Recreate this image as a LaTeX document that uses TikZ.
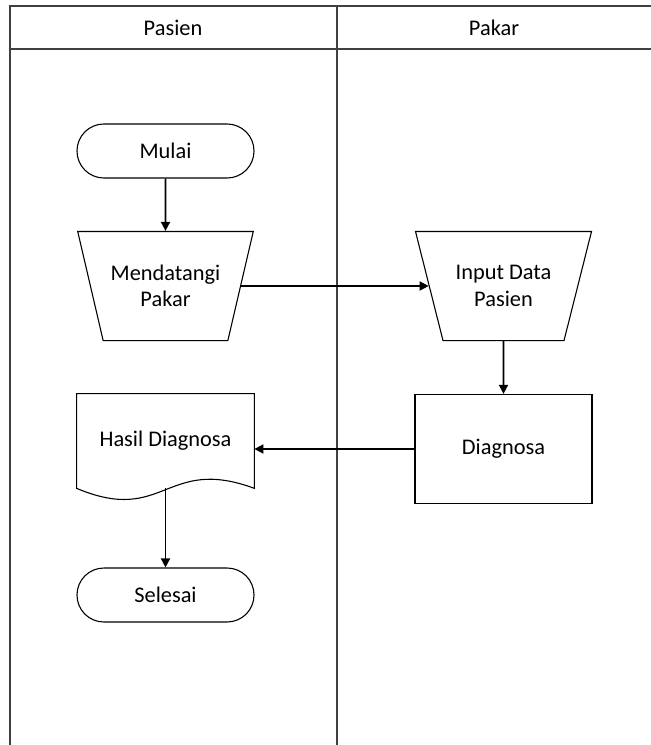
\documentclass[tikz,border=0pt]{standalone}
\usepackage{fontspec}
\setmainfont{Carlito}
\usetikzlibrary{shapes.geometric,arrows.meta}
\tikzset{
 terminal/.style={draw,rectangle,rounded corners=14.8pt,minimum width=97.35pt,minimum height=29.7pt,inner sep=0pt,line width=0.6pt},
 manual/.style={draw,trapezium,shape border rotate=180,trapezium stretches=true,trapezium left angle=62,trapezium right angle=62,minimum width=97.35pt,minimum height=60pt,inner sep=0pt,align=center,line width=0.6pt},
 process/.style={draw,rectangle,minimum width=97.35pt,minimum height=60pt,inner sep=0pt,line width=0.6pt},
 document/.style={rectangle,minimum width=97.35pt,minimum height=51.7pt,inner sep=0pt},
 lane/.style={line width=1pt,black!75},
 flow/.style={-{Triangle[length=5pt,width=5pt]},line width=0.9pt}
}
\begin{document}
\begin{tikzpicture}[x=0.55pt,y=-0.55pt,font=\fontsize{12.3}{14.5}\selectfont]
\useasboundingbox (0,0) rectangle (651,745);
% swimlanes
\draw[lane] (10,745) -- (10,6) -- (651,6);
\draw[lane] (10,49) -- (651,49);
\draw[lane] (337,6) -- (337,745);
\node(pasien) at (173,28){Pasien};
\node(pakar) at (494,28){Pakar};
% flowchart
\node[terminal](mulai) at (165.5,151){Mulai};
\node[manual](mendatangi) at (165.5,286){Mendatangi\\Pakar};
\node[manual](input) at (503.5,286){Input Data\\Pasien};
\node[process](diagnosa) at (503.5,449){Diagnosa};
\node[document](hasil) at (165.5,441){Hasil Diagnosa};
\draw[line width=0.6pt] (hasil.north west) -- (hasil.north east) -- (hasil.south east)
 .. controls +(-89,-33) and +(88,37) .. (hasil.south west) -- cycle;
\node[terminal](selesai) at (165.5,595){Selesai};
\foreach \from/\to in {mulai/mendatangi,mendatangi/input,input/diagnosa,hasil/selesai}
 \draw[flow] (\from) -- (\to);
\draw[flow] (diagnosa.west) -- (diagnosa.west -| hasil.east);
\end{tikzpicture}
\end{document}
